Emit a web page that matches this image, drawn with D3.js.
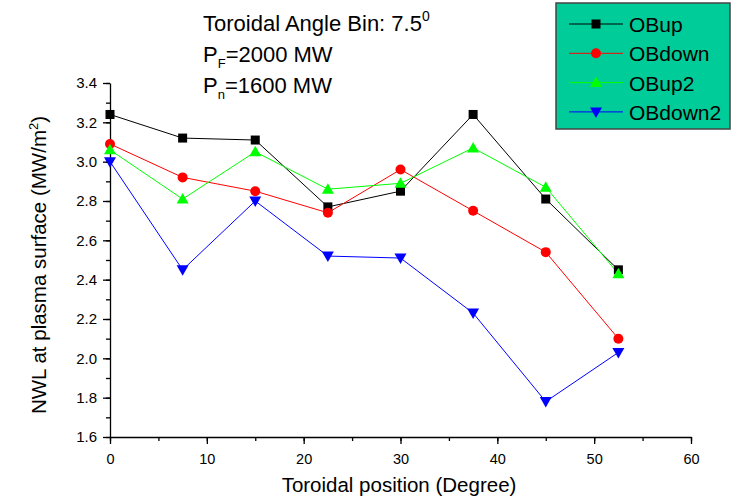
<!DOCTYPE html>
<html>
<head>
<meta charset="utf-8">
<script src="https://cdn.jsdelivr.net/npm/d3@7"></script>
<style>
  body { margin: 0; background: #fff; }
  svg text { font-family: "Liberation Sans", Arial, sans-serif; fill: #000; }
</style>
</head>
<body>
<div id="plot"></div>
<script>
// data
const positions = [0, 7.5, 15, 22.5, 30, 37.5, 45, 52.5];
const obUp = [3.24, 3.12, 3.11, 2.77, 2.85, 3.24, 2.81, 2.45];
const obDown = [3.09, 2.92, 2.85, 2.74, 2.96, 2.75, 2.54, 2.10];
const obUp2 = [3.06, 2.81, 3.05, 2.86, 2.89, 3.07, 2.87, 2.43];
const obDown2 = [3.00, 2.45, 2.80, 2.52, 2.51, 2.23, 1.78, 2.03];
const xTicks = [0, 10, 20, 30, 40, 50, 60];
const yTicks = [1.6, 1.8, 2.0, 2.2, 2.4, 2.6, 2.8, 3.0, 3.2, 3.4];

const series = [
    { name: "OBup", values: obUp, color: "#000000", shape: "square" },
    { name: "OBdown", values: obDown, color: "#ff0000", shape: "circle" },
    { name: "OBup2", values: obUp2, color: "#00ff00", shape: "up" },
    { name: "OBdown2", values: obDown2, color: "#0000ff", shape: "down" }
];

const w = 731, h = 497;
const svg = d3.select("#plot").append("svg")
    .attr("width", w)
    .attr("height", h);

const x = d3.scaleLinear().domain([0, 60]).range([110, 691]);
const y = d3.scaleLinear().domain([1.6, 3.4]).range([437, 83]);

//draws a marker of the given shape around 0,0
const marker = (g, shape, color) => {
    if (shape === "square") {
        g.append("rect").attr("x", -4.5).attr("y", -4.5).attr("width", 9).attr("height", 9).attr("fill", color);
    } else if (shape === "circle") {
        g.append("circle").attr("r", 5).attr("fill", color);
    } else if (shape === "up") {
        g.append("path").attr("d", "M0,-6L6,4.5L-6,4.5Z").attr("fill", color);
    } else {
        g.append("path").attr("d", "M0,6L6,-4.5L-6,-4.5Z").attr("fill", color);
    }
};

//axes with minor ticks
svg.append("g")
    .attr("transform", "translate(0,437)")
    .call(d3.axisBottom(x).ticks(12).tickSize(4).tickFormat(""))
    .call(g => g.select(".domain").remove());
svg.append("g")
    .attr("transform", "translate(0,437)")
    .call(d3.axisBottom(x).tickValues(xTicks).tickSize(7).tickPadding(10).tickSizeOuter(0))
    .call(g => g.selectAll("text").style("font-size", "14.5px"));

svg.append("g")
    .attr("transform", "translate(110,0)")
    .call(d3.axisLeft(y).ticks(18).tickSize(4).tickFormat(""))
    .call(g => g.select(".domain").remove());
svg.append("g")
    .attr("transform", "translate(110,0)")
    .call(d3.axisLeft(y).tickValues(yTicks).tickSize(7).tickPadding(6).tickSizeOuter(0).tickFormat(d3.format(".1f")))
    .call(g => g.selectAll("text").style("font-size", "15px"));

svg.selectAll(".domain, .tick line").attr("stroke", "#000").attr("stroke-width", 1.3);

//lines and markers
const line = d3.line().x((d, i) => x(positions[i])).y(d => y(d));
series.forEach(s => {
    svg.append("path")
        .datum(s.values)
        .attr("fill", "none")
        .attr("stroke", s.color)
        .attr("stroke-width", 1)
        .attr("d", line);
});
series.forEach(s => {
    s.values.forEach((v, i) => {
        const g = svg.append("g").attr("transform", `translate(${x(positions[i])},${y(v)})`);
        marker(g, s.shape, s.color);
    });
});

//axis titles
svg.append("text")
    .attr("x", 399).attr("y", 492)
    .attr("text-anchor", "middle")
    .style("font-size", "20.5px")
    .text("Toroidal position (Degree)");

const yt = svg.append("text")
    .attr("transform", "translate(46,265) rotate(-90)")
    .attr("text-anchor", "middle")
    .style("font-size", "20.5px");
yt.append("tspan").text("NWL at plasma surface (MW/m");
yt.append("tspan").attr("dy", -8).style("font-size", "13px").text("2");
yt.append("tspan").attr("dy", 8).text(")");

//annotation text
const ann = svg.append("g").style("font-size", "22px");
const t1 = ann.append("text").attr("x", 203).attr("y", 31);
t1.append("tspan").text("Toroidal Angle Bin: 7.5");
t1.append("tspan").attr("dy", -10).style("font-size", "14px").text("0");
const t2 = ann.append("text").attr("x", 203).attr("y", 62);
t2.append("tspan").text("P");
t2.append("tspan").attr("dy", 6).style("font-size", "13px").text("F");
t2.append("tspan").attr("dy", -6).text("=2000 MW");
const t3 = ann.append("text").attr("x", 203).attr("y", 93);
t3.append("tspan").text("P");
t3.append("tspan").attr("dy", 6).style("font-size", "13px").text("n");
t3.append("tspan").attr("dy", -6).text("=1600 MW");

//legend
const leg = svg.append("g");
leg.append("rect")
    .attr("x", 556).attr("y", 3)
    .attr("width", 174).attr("height", 126)
    .attr("fill", "#00cc99")
    .attr("stroke", "#444")
    .attr("stroke-width", 1.5);
series.forEach((s, i) => {
    const row = leg.append("g").attr("transform", `translate(0,${24 + i * 29.3})`);
    row.append("line").attr("x1", 569).attr("x2", 623).attr("stroke", s.color).attr("stroke-width", 1);
    marker(row.append("g").attr("transform", "translate(596,0)"), s.shape, s.color);
    row.append("text").attr("x", 629).attr("y", 8).style("font-size", "21px").text(s.name);
});
</script>
</body>
</html>
